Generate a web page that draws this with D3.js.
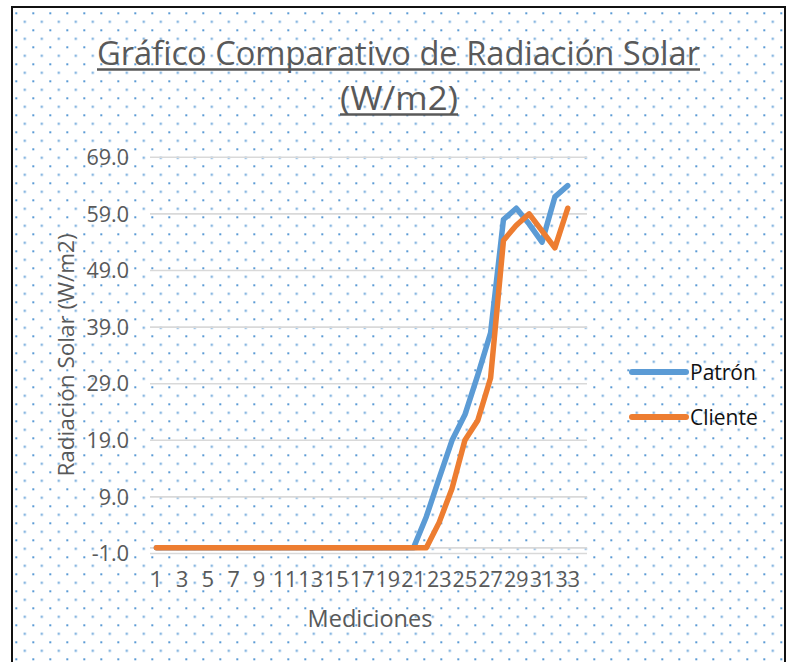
<!DOCTYPE html>
<html>
<head>
<meta charset="utf-8">
<script src="https://cdn.jsdelivr.net/npm/d3@7/dist/d3.min.js"></script>
<style>
  body { margin: 0; background: #fff; }
  svg { display: block; }
  text { font-family: "Open Sans", sans-serif; }
</style>
</head>
<body>
<div class="chart"></div>
<script>
// mediciones on the axis (the last one has no value)
const categories = [1, 2, 3, 4, 5, 6, 7, 8, 9, 10, 11, 12, 13, 14, 15, 16, 17,
  18, 19, 20, 21, 22, 23, 24, 25, 26, 27, 28, 29, 30, 31, 32, 33, 34];
const tickLabels = [1, 3, 5, 7, 9, 11, 13, 15, 17, 19, 21, 23, 25, 27, 29, 31, 33];
const yTicks = [-1, 9, 19, 29, 39, 49, 59, 69];

const patron = [0, 0, 0, 0, 0, 0, 0, 0, 0, 0, 0, 0, 0, 0, 0, 0, 0, 0, 0, 0, 0,
  5.5, 12.3, 19, 23.5, 30.5, 38, 58, 60, 57.2, 54, 62, 64];
const cliente = [0, 0, 0, 0, 0, 0, 0, 0, 0, 0, 0, 0, 0, 0, 0, 0, 0, 0, 0, 0, 0, 0,
  4.5, 10.5, 19, 22.5, 30, 54.3, 57, 59, 56, 53, 60];

const seriesNames = ["Patrón", "Cliente"];
const seriesColors = ["#5b9bd5", "#ed7d31"];

const width = 791, height = 662;
const plot = { left: 150, right: 587, top: 157.3, bottom: 553.5 };
const grey = "#595959";

const svg = d3.select("div.chart").append("svg")
  .attr("width", width)
  .attr("height", height);

// dotted background of the chart area
const pattern = svg.append("defs").append("pattern")
  .attr("id", "dots")
  .attr("patternUnits", "userSpaceOnUse")
  .attr("width", 17)
  .attr("height", 17)
  .attr("x", 15.3)
  .attr("y", 12.3);
pattern.append("rect").attr("width", 17).attr("height", 17).attr("fill", "#fff");
pattern.append("rect").attr("x", 0).attr("y", 0).attr("width", 2).attr("height", 2).attr("fill", "#5b9bd5");
pattern.append("rect").attr("x", 8.5).attr("y", 8.5).attr("width", 2).attr("height", 2).attr("fill", "#5b9bd5");

svg.append("rect")
  .attr("x", 12)
  .attr("y", 7)
  .attr("width", 773)
  .attr("height", 680)
  .attr("fill", "url(#dots)")
  .attr("stroke", "#111")
  .attr("stroke-width", 2);

const x = d3.scaleBand().domain(categories).range([plot.left, plot.right]);
const cx = (d) => x(d) + x.bandwidth() / 2;
const y = d3.scaleLinear().domain([-1, 69]).range([plot.bottom, plot.top]);

// gridlines
svg.append("g").selectAll("line")
  .data(yTicks)
  .enter().append("line")
  .attr("x1", plot.left)
  .attr("x2", plot.right)
  .attr("y1", (d) => y(d))
  .attr("y2", (d) => y(d))
  .attr("stroke", "#d9d9d9")
  .attr("stroke-width", 1.6);

// horizontal axis crosses at 0
svg.append("line")
  .attr("x1", plot.left)
  .attr("x2", plot.right)
  .attr("y1", y(0))
  .attr("y2", y(0))
  .attr("stroke", "#d9d9d9")
  .attr("stroke-width", 1.6);

// y tick labels (plain hyphen for the minus, like the original)
svg.append("g").selectAll("text")
  .data(yTicks)
  .enter().append("text")
  .attr("x", 129)
  .attr("y", (d) => y(d))
  .attr("dy", "0.36em")
  .attr("text-anchor", "end")
  .attr("font-size", 21.5)
  .attr("fill", grey)
  .text((d) => d.toFixed(1));

// x tick labels
svg.append("g").selectAll("text")
  .data(tickLabels)
  .enter().append("text")
  .attr("x", (d) => cx(d))
  .attr("y", 587)
  .attr("text-anchor", "middle")
  .attr("font-size", 21.5)
  .attr("fill", grey)
  .text((d) => d);

// series
const line = d3.line()
  .x((d, i) => cx(categories[i]))
  .y((d) => y(d));

[patron, cliente].forEach((values, idx) => {
  svg.append("path")
    .attr("d", line(values))
    .attr("fill", "none")
    .attr("stroke", seriesColors[idx])
    .attr("stroke-width", 5.5)
    .attr("stroke-linejoin", "round")
    .attr("stroke-linecap", "round");
});

// title with underline
const titleLines = [
  { text: "Gráfico Comparativo de Radiación Solar", y: 65, x1: 97, x2: 700 },
  { text: "(W/m2)", y: 110, x1: 340, x2: 458 }
];
titleLines.forEach((t) => {
  svg.append("text")
    .attr("x", (t.x1 + t.x2) / 2)
    .attr("y", t.y)
    .attr("text-anchor", "middle")
    .attr("font-size", 33)
    .attr("fill", grey)
    .attr("textLength", t.x2 - t.x1)
    .attr("lengthAdjust", "spacingAndGlyphs")
    .text(t.text);
  svg.append("line")
    .attr("x1", t.x1)
    .attr("x2", t.x2)
    .attr("y1", t.y + 4.5)
    .attr("y2", t.y + 4.5)
    .attr("stroke", grey)
    .attr("stroke-width", 2.5);
});

// axis titles
svg.append("text")
  .attr("transform", "translate(74,355) rotate(-90)")
  .attr("text-anchor", "middle")
  .attr("font-size", 22.5)
  .attr("fill", grey)
  .text("Radiación Solar (W/m2)");

svg.append("text")
  .attr("x", 370)
  .attr("y", 627)
  .attr("text-anchor", "middle")
  .attr("font-size", 23.5)
  .attr("fill", grey)
  .text("Mediciones");

// legend
const legendY = [372, 417];
seriesNames.forEach((name, i) => {
  svg.append("line")
    .attr("x1", 632)
    .attr("x2", 686)
    .attr("y1", legendY[i])
    .attr("y2", legendY[i])
    .attr("stroke", seriesColors[i])
    .attr("stroke-width", 6)
    .attr("stroke-linecap", "round");
  svg.append("text")
    .attr("x", 690)
    .attr("y", legendY[i])
    .attr("dy", "0.36em")
    .attr("font-size", 21)
    .attr("fill", "#111")
    .text(name);
});
</script>
</body>
</html>
